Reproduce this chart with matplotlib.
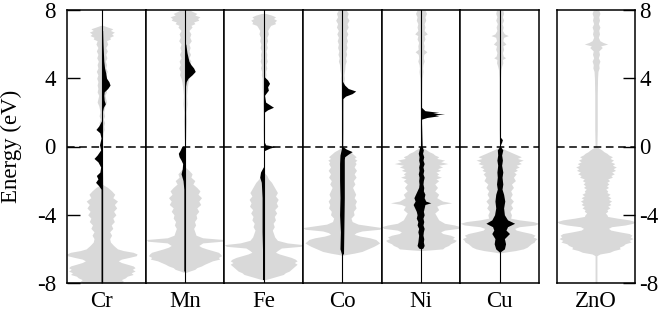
import matplotlib
matplotlib.use("Agg")
import matplotlib.pyplot as plt

plt.rcParams['font.family'] = ['Liberation Serif', 'DejaVu Serif']

# panel labels
dopants = ['Cr', 'Mn', 'Fe', 'Co', 'Ni', 'Cu']

# host (gray) DOS, half-width vs energy (eV)
cr_gray_e = [7.1, 7.0, 6.9, 6.8, 6.7, 6.6, 6.5, 6.4, 6.3, 6.2, 6.0, 5.8, 5.6, 5.4, 5.2, 5.0, 4.8, 4.6, 4.4, 4.2,
             4.0, 3.8, 3.6, 3.4, 3.2, 3.0, 2.8, 2.6, 2.4, 2.2, 2.0, 1.8, 1.6, 1.4, 1.2, 1.0, 0.8, 0.5, 0.2,
             -2.2, -2.4, -2.6, -2.8, -3.0, -3.2, -3.4, -3.6, -3.8, -4.0, -4.2, -4.4, -4.6, -4.8, -5.0, -5.2, -5.4,
             -5.6, -5.8, -6.0, -6.1, -6.2, -6.3, -6.4, -6.5, -6.6, -6.7, -6.8, -6.9, -7.0, -7.1, -7.2, -7.3, -7.4,
             -7.5, -7.6, -7.7, -7.8, -7.9, -8.0]
cr_gray_w = [0.03, 0.15, 0.28, 0.22, 0.32, 0.25, 0.3, 0.2, 0.22, 0.12, 0.15, 0.1, 0.14, 0.1, 0.13, 0.09, 0.12, 0.1,
             0.14, 0.1, 0.13, 0.1, 0.12, 0.1, 0.12, 0.08, 0.1, 0.12, 0.08, 0.06, 0.05, 0.07, 0.04, 0.07, 0.05, 0.06,
             0.03, 0.02, 0.0,
             0.0, 0.15, 0.25, 0.33, 0.28, 0.4, 0.32, 0.38, 0.3, 0.36, 0.28, 0.32, 0.24, 0.28, 0.2, 0.25, 0.2,
             0.22, 0.3, 0.4, 0.55, 0.8, 0.9, 0.88, 0.7, 0.5, 0.42, 0.5, 0.65, 0.8, 0.85, 0.78, 0.85, 0.75,
             0.8, 0.65, 0.6, 0.5, 0.55, 0.5]
mn_gray_e = [8.0, 7.9, 7.8, 7.7, 7.6, 7.5, 7.4, 7.3, 7.2, 7.1, 7.0, 6.8, 6.6, 6.4, 6.2, 6.0, 5.8, 5.6, 5.4, 5.2,
             5.0, 4.8, 4.6, 4.4, 4.2, 4.0, 3.8, 3.5, 3.0, 2.5, 2.0, 1.5, 1.0, 0.5, 0.0,
             -1.2, -1.4, -1.6, -1.8, -2.0, -2.2, -2.4, -2.6, -2.8, -3.0, -3.2, -3.4, -3.6, -3.8, -4.0, -4.2, -4.4,
             -4.6, -4.8, -5.0, -5.2, -5.35, -5.45, -5.55, -5.65, -5.8, -5.9, -6.0, -6.1, -6.2, -6.3, -6.4, -6.5,
             -6.6, -6.7, -6.8, -6.9, -7.0, -7.1, -7.2, -7.3, -7.4]
mn_gray_w = [0.12, 0.2, 0.3, 0.25, 0.38, 0.32, 0.35, 0.22, 0.25, 0.15, 0.18, 0.1, 0.15, 0.12, 0.16, 0.1, 0.13, 0.1,
             0.14, 0.1, 0.15, 0.12, 0.16, 0.12, 0.14, 0.1, 0.08, 0.06, 0.04, 0.05, 0.03, 0.04, 0.03, 0.02, 0.0,
             0.0, 0.1, 0.18, 0.15, 0.25, 0.2, 0.3, 0.38, 0.33, 0.42, 0.35, 0.4, 0.3, 0.35, 0.28, 0.3, 0.24,
             0.27, 0.22, 0.25, 0.28, 0.45, 0.98, 0.95, 0.45, 0.35, 0.42, 0.55, 0.7, 0.85, 0.9, 0.93, 0.85,
             0.88, 0.7, 0.6, 0.5, 0.42, 0.3, 0.25, 0.12, 0.0]
fe_gray_e = [7.8, 7.7, 7.6, 7.5, 7.4, 7.3, 7.2, 7.1, 7.0, 6.8, 6.6, 6.4, 6.2, 6.0, 5.8, 5.6, 5.4, 5.2, 5.0, 4.8,
             4.6, 4.4, 4.2, 4.0, 3.5, 3.0, 2.5, 2.0, 1.0, 0.0,
             -1.5, -1.7, -1.9, -2.1, -2.3, -2.5, -2.7, -2.9, -3.1, -3.3, -3.5, -3.7, -3.9, -4.1, -4.3, -4.5, -4.7,
             -4.9, -5.1, -5.3, -5.5, -5.65, -5.75, -5.85, -5.95, -6.1, -6.2, -6.3, -6.4, -6.5, -6.6, -6.7, -6.8,
             -6.9, -7.0, -7.1, -7.2, -7.3, -7.4, -7.5, -7.6, -7.7, -7.8]
fe_gray_w = [0.05, 0.2, 0.3, 0.25, 0.33, 0.28, 0.3, 0.18, 0.15, 0.1, 0.12, 0.08, 0.1, 0.07, 0.09, 0.06, 0.08, 0.07,
             0.09, 0.06, 0.08, 0.05, 0.06, 0.04, 0.04, 0.03, 0.03, 0.02, 0.02, 0.0,
             0.0, 0.08, 0.12, 0.2, 0.25, 0.3, 0.35, 0.3, 0.37, 0.32, 0.36, 0.28, 0.33, 0.27, 0.3, 0.24, 0.27,
             0.22, 0.25, 0.28, 0.35, 0.6, 1.0, 0.95, 0.45, 0.35, 0.3, 0.4, 0.55, 0.7, 0.8, 0.85, 0.78,
             0.85, 0.8, 0.75, 0.7, 0.65, 0.55, 0.5, 0.35, 0.2, 0.05]
co_gray_e = [8.0, 7.8, 7.6, 7.4, 7.2, 7.0, 6.8, 6.6, 6.4, 6.2, 6.0, 5.8, 5.6, 5.4, 5.2, 5.0, 4.8, 4.5, 4.2, 4.0,
             3.5, 3.0, 2.0, 1.0, 0.0,
             -0.1, -0.2, -0.3, -0.4, -0.5, -0.6, -0.7, -0.8, -0.9, -1.0, -1.2, -1.4, -1.6, -1.8, -2.0, -2.2, -2.4,
             -2.6, -2.8, -3.0, -3.2, -3.4, -3.6, -3.8, -4.0, -4.2, -4.4, -4.55, -4.65, -4.75, -4.85, -4.95, -5.05,
             -5.15, -5.25, -5.35, -5.45, -5.55, -5.65, -5.75, -5.85, -5.95, -6.05, -6.15, -6.25, -6.35, -6.4]
co_gray_w = [0.1, 0.15, 0.12, 0.17, 0.12, 0.15, 0.1, 0.14, 0.1, 0.13, 0.1, 0.12, 0.09, 0.11, 0.08, 0.1, 0.07,
             0.06, 0.04, 0.05, 0.03, 0.03, 0.02, 0.02, 0.0,
             0.05, 0.12, 0.2, 0.25, 0.3, 0.35, 0.3, 0.37, 0.32, 0.35, 0.3, 0.36, 0.3, 0.35, 0.28, 0.32, 0.26,
             0.3, 0.34, 0.3, 0.36, 0.32, 0.35, 0.28, 0.3, 0.22, 0.25, 0.4, 0.7, 1.0, 0.95, 0.5, 0.35,
             0.3, 0.45, 0.7, 0.85, 0.9, 0.95, 0.88, 0.8, 0.7, 0.6, 0.5, 0.3, 0.05, 0.0]
ni_gray_e = [8.0, 7.8, 7.6, 7.4, 7.2, 7.0, 6.8, 6.6, 6.5, 6.3, 6.1, 5.9, 5.7, 5.55, 5.4, 5.2, 5.0, 4.8, 4.6, 4.4,
             4.0, 3.0, 2.0, 1.0, 0.0,
             -0.1, -0.2, -0.3, -0.4, -0.5, -0.6, -0.7, -0.8, -0.9, -1.0, -1.1, -1.2, -1.3, -1.4, -1.5, -1.6, -1.7,
             -1.8, -1.9, -2.0, -2.2, -2.4, -2.6, -2.8, -3.0, -3.2, -3.3, -3.4, -3.5, -3.7, -3.9, -4.1, -4.3, -4.5,
             -4.6, -4.7, -4.8, -4.9, -5.0, -5.1, -5.2, -5.3, -5.4, -5.5, -5.6, -5.7, -5.8, -5.9, -6.0, -6.05, -6.1]
ni_gray_w = [0.1, 0.14, 0.1, 0.12, 0.08, 0.1, 0.08, 0.16, 0.08, 0.1, 0.06, 0.08, 0.07, 0.15, 0.07, 0.06, 0.08,
             0.05, 0.04, 0.05, 0.03, 0.02, 0.02, 0.02, 0.0,
             0.06, 0.14, 0.2, 0.3, 0.35, 0.45, 0.4, 0.6, 0.5, 0.68, 0.45, 0.55, 0.42, 0.5, 0.38, 0.45, 0.4,
             0.52, 0.38, 0.45, 0.35, 0.42, 0.35, 0.45, 0.4, 0.55, 0.78, 0.5, 0.4, 0.45, 0.35, 0.4, 0.45, 0.6,
             0.85, 1.0, 0.95, 0.6, 0.5, 0.55, 0.75, 0.85, 0.8, 0.9, 0.85, 0.75, 0.7, 0.6, 0.55, 0.3, 0.0]
cu_gray_e = [8.0, 7.8, 7.6, 7.4, 7.2, 7.0, 6.8, 6.6, 6.5, 6.4, 6.2, 6.0, 5.9, 5.7, 5.5, 5.3, 5.2, 5.1, 4.9, 4.7,
             4.5, 4.0, 3.0, 1.0, 0.0,
             -0.1, -0.2, -0.3, -0.4, -0.5, -0.6, -0.7, -0.8, -0.9, -1.0, -1.1, -1.2, -1.3, -1.4, -1.5, -1.6, -1.8,
             -2.0, -2.2, -2.4, -2.6, -2.8, -3.0, -3.2, -3.4, -3.6, -3.8, -4.0, -4.2, -4.3, -4.4, -4.5, -4.6, -4.7,
             -4.8, -4.9, -5.0, -5.1, -5.2, -5.3, -5.4, -5.5, -5.6, -5.7, -5.8, -5.9, -6.0, -6.1, -6.2, -6.25]
cu_gray_w = [0.08, 0.1, 0.07, 0.1, 0.06, 0.09, 0.07, 0.12, 0.22, 0.1, 0.08, 0.16, 0.08, 0.1, 0.07, 0.09, 0.15,
             0.07, 0.08, 0.05, 0.03, 0.02, 0.02, 0.02, 0.0,
             0.06, 0.15, 0.25, 0.35, 0.45, 0.55, 0.45, 0.6, 0.48, 0.55, 0.42, 0.5, 0.4, 0.45, 0.36, 0.42, 0.35,
             0.4, 0.3, 0.35, 0.28, 0.32, 0.27, 0.35, 0.28, 0.33, 0.26, 0.3, 0.28, 0.5, 0.85, 1.0, 0.9, 0.5,
             0.38, 0.42, 0.6, 0.8, 0.9, 0.85, 0.95, 0.9, 0.88, 0.8, 0.75, 0.7, 0.6, 0.4, 0.1, 0.0]
zno_gray_e = [8.0, 7.8, 7.6, 7.4, 7.2, 7.0, 6.8, 6.6, 6.4, 6.2, 6.1, 6.0, 5.9, 5.8, 5.6, 5.4, 5.2, 5.0, 4.8, 4.6,
              4.4, 4.0, 3.0, 2.0, 1.0, 0.0,
              -0.1, -0.2, -0.3, -0.4, -0.5, -0.6, -0.7, -0.8, -0.9, -1.0, -1.1, -1.2, -1.3, -1.4, -1.5, -1.6,
              -1.7, -1.8, -1.9, -2.0, -2.1, -2.2, -2.3, -2.4, -2.5, -2.6, -2.7, -2.8, -2.9, -3.0, -3.1, -3.2,
              -3.3, -3.4, -3.5, -3.6, -3.7, -3.8, -3.9, -4.0, -4.1, -4.2, -4.3, -4.4, -4.5, -4.6, -4.7, -4.8,
              -4.9, -5.0, -5.1, -5.2, -5.3, -5.4, -5.5, -5.6, -5.7, -5.8, -5.9, -6.0, -6.1, -6.2, -6.3, -6.4,
              -8.0]
zno_gray_w = [0.07, 0.1, 0.07, 0.09, 0.06, 0.1, 0.07, 0.09, 0.06, 0.1, 0.18, 0.3, 0.12, 0.16, 0.07, 0.09, 0.06,
              0.1, 0.07, 0.08, 0.05, 0.04, 0.03, 0.03, 0.03, 0.02,
              0.08, 0.15, 0.2, 0.28, 0.33, 0.42, 0.36, 0.45, 0.38, 0.48, 0.42, 0.52, 0.44, 0.5, 0.4, 0.47,
              0.38, 0.42, 0.3, 0.35, 0.28, 0.33, 0.27, 0.32, 0.25, 0.3, 0.28, 0.36, 0.3, 0.38, 0.32, 0.4,
              0.33, 0.38, 0.3, 0.36, 0.28, 0.3, 0.24, 0.28, 0.3, 0.55, 0.85, 1.0, 0.95, 0.75, 0.4, 0.32,
              0.38, 0.6, 0.85, 0.92, 0.88, 0.95, 0.85, 0.9, 0.75, 0.7, 0.6, 0.62, 0.45, 0.35, 0.1, 0.02,
              0.02]

# dopant d states (black), right side = spin up, left side = spin down
cr_up_e = [6.8, 6.0, 5.0, 4.6, 4.3, 4.0, 3.8, 3.6, 3.4, 3.2, 3.0, 2.7, 2.5, 2.3, 2.0, 1.0, -2.3, -8.0]
cr_up_w = [0.02, 0.03, 0.05, 0.07, 0.1, 0.12, 0.18, 0.21, 0.15, 0.06, 0.05, 0.06, 0.09, 0.04, 0.01, 0.01, 0.02, 0.02]
cr_dn_e = [1.5, 1.2, 1.0, 0.8, 0.5, 0.1, -0.2, -0.5, -0.7, -0.9, -1.2, -1.5, -1.7, -1.9, -2.1, -2.3, -2.5, -8.0]
cr_dn_w = [0.01, 0.08, 0.15, 0.05, 0.02, 0.06, 0.03, 0.12, 0.2, 0.1, 0.03, 0.05, 0.14, 0.1, 0.16, 0.08, 0.02, 0.02]
mn_up_e = [6.0, 5.5, 5.2, 5.0, 4.8, 4.6, 4.4, 4.2, 4.0, 3.8, 3.5, 0.0]
mn_up_w = [0.02, 0.05, 0.08, 0.1, 0.15, 0.22, 0.26, 0.18, 0.08, 0.03, 0.01, 0.01]
mn_dn_e = [0.0, -0.2, -0.4, -0.6, -0.8, -1.0, -1.3, -1.6, -2.0, -2.5, -7.3]
mn_dn_w = [0.08, 0.12, 0.17, 0.15, 0.1, 0.06, 0.07, 0.1, 0.05, 0.03, 0.03]
fe_up_e = [4.1, 3.9, 3.7, 3.5, 3.3, 3.0, 2.6, 2.45, 2.3, 2.15, 2.0, 0.3, 0.1, 0.0, -0.1, -0.25, -1.0]
fe_up_w = [0.01, 0.1, 0.15, 0.1, 0.12, 0.02, 0.05, 0.15, 0.25, 0.1, 0.01, 0.01, 0.05, 0.3, 0.15, 0.01, 0.01]
fe_dn_e = [-1.2, -1.5, -1.8, -2.1, -3.0, -5.0, -6.0, -7.8]
fe_dn_w = [0.01, 0.08, 0.1, 0.06, 0.04, 0.04, 0.03, 0.03]
co_up_e = [3.8, 3.6, 3.4, 3.25, 3.1, 2.95, 2.8, 0.0, -0.15, -0.3, -0.45, -0.6, -0.75, -1.0, -3.0, -6.3]
co_up_w = [0.01, 0.06, 0.15, 0.34, 0.25, 0.08, 0.01, 0.01, 0.1, 0.25, 0.15, 0.06, 0.05, 0.05, 0.05, 0.03]
co_dn_e = [-0.1, -0.5, -1.0, -2.0, -3.0, -4.0, -5.0, -6.0, -6.3]
co_dn_w = [0.02, 0.06, 0.07, 0.07, 0.06, 0.07, 0.05, 0.06, 0.02]
ni_up_e = [2.3, 2.1, 2.0, 1.95, 1.9, 1.85, 1.8, 1.7, 1.6, 0.0, -0.2, -0.4, -0.6, -0.8, -1.0, -1.2, -1.4, -1.6,
           -1.8, -2.0, -2.2, -2.4, -2.6, -2.8, -3.0, -3.2, -3.3, -3.4, -3.6, -3.8, -4.0, -4.2, -4.4, -4.6, -4.8,
           -5.0, -5.2, -5.4, -5.6, -5.8, -5.95, -6.0]
ni_up_w = [0.01, 0.1, 0.45, 0.3, 0.6, 0.35, 0.45, 0.15, 0.01, 0.03, 0.06, 0.04, 0.07, 0.05, 0.08, 0.05, 0.07, 0.05,
           0.08, 0.06, 0.05, 0.07, 0.06, 0.1, 0.08, 0.12, 0.25, 0.1, 0.08, 0.06, 0.08, 0.05, 0.07, 0.05, 0.08,
           0.06, 0.05, 0.07, 0.06, 0.08, 0.05, 0.0]
ni_dn_e = [0.0, -0.2, -0.4, -0.6, -0.8, -1.0, -1.2, -1.4, -1.6, -1.8, -2.0, -2.2, -2.4, -2.6, -2.8, -3.0, -3.2,
           -3.4, -3.6, -3.8, -4.0, -4.2, -4.4, -4.6, -4.8, -5.0, -5.2, -5.4, -5.6, -5.8, -5.95, -6.0]
ni_dn_w = [0.03, 0.05, 0.07, 0.05, 0.06, 0.04, 0.06, 0.05, 0.07, 0.05, 0.06, 0.05, 0.06, 0.1, 0.14, 0.18, 0.15,
           0.2, 0.16, 0.12, 0.1, 0.12, 0.08, 0.1, 0.06, 0.08, 0.06, 0.07, 0.08, 0.1, 0.06, 0.0]
cu_up_e = [0.6, 0.4, 0.25, 0.1, 0.0, -0.2, -0.5, -0.8, -1.1, -1.5, -1.8, -2.2, -2.5, -2.8, -3.2, -3.6, -4.0, -4.3,
           -4.5, -4.7, -4.9, -5.1, -5.4, -5.7, -6.0, -6.2]
cu_up_w = [0.0, 0.07, 0.05, 0.02, 0.02, 0.08, 0.05, 0.07, 0.05, 0.08, 0.06, 0.08, 0.06, 0.1, 0.13, 0.1, 0.12, 0.2,
           0.38, 0.2, 0.16, 0.25, 0.12, 0.15, 0.12, 0.0]
cu_dn_e = [0.0, -0.2, -0.5, -0.8, -1.1, -1.5, -1.8, -2.2, -2.5, -2.8, -3.2, -3.6, -4.0, -4.3, -4.5, -4.7, -4.9,
           -5.1, -5.4, -5.7, -6.0, -6.2]
cu_dn_w = [0.0, 0.06, 0.05, 0.07, 0.05, 0.07, 0.06, 0.08, 0.06, 0.1, 0.12, 0.1, 0.13, 0.2, 0.35, 0.18, 0.15,
           0.2, 0.12, 0.14, 0.1, 0.0]

gray_e = [cr_gray_e, mn_gray_e, fe_gray_e, co_gray_e, ni_gray_e, cu_gray_e]
gray_w = [cr_gray_w, mn_gray_w, fe_gray_w, co_gray_w, ni_gray_w, cu_gray_w]
up_e = [cr_up_e, mn_up_e, fe_up_e, co_up_e, ni_up_e, cu_up_e]
up_w = [cr_up_w, mn_up_w, fe_up_w, co_up_w, ni_up_w, cu_up_w]
dn_e = [cr_dn_e, mn_dn_e, fe_dn_e, co_dn_e, ni_dn_e, cu_dn_e]
dn_w = [cr_dn_w, mn_dn_w, fe_dn_w, co_dn_w, ni_dn_w, cu_dn_w]

yticks = [8, 4, 0, -4, -8]
ytick_labels = ['8', '4', '0', '-4', '-8']

GRAY = '#d9d9d9'
FS = 16.5
W, H = 664, 311

fig = plt.figure(figsize=(W / 100, H / 100), dpi=100)

left, right, top, bottom = 67, 539, 10, 283
pw = (right - left) / 6


def style(ax, xlim):
    ax.set_xlim(*xlim)
    ax.set_ylim(-8, 8)
    ax.axhline(0, color='black', lw=1.1, ls=(0, (5, 3)), zorder=5)
    for s in ax.spines.values():
        s.set_linewidth(1.1)
    ax.tick_params(axis='x', length=0, pad=6, labelsize=FS)
    ax.tick_params(axis='y', direction='in', length=9, width=1.0, labelsize=FS)


for i, name in enumerate(dopants):
    x0 = left + i * pw
    ax = fig.add_axes([x0 / W, 1 - bottom / H, pw / W, (bottom - top) / H])
    xlim = (-0.89, 1.12) if name == 'Cr' else (-1, 1)
    ax.fill_betweenx(gray_e[i], [-w for w in gray_w[i]], gray_w[i], color=GRAY, lw=0, zorder=1)
    ax.fill_betweenx(up_e[i], 0, up_w[i], color='black', lw=0, zorder=2)
    ax.fill_betweenx(dn_e[i], [-w for w in dn_w[i]], 0, color='black', lw=0, zorder=2)
    ax.axvline(0, color='black', lw=0.8, zorder=3)
    style(ax, xlim)
    ax.set_xticks([0])
    ax.set_xticklabels([name])
    ax.set_yticks(yticks)
    if i == 0:
        ax.set_yticklabels(ytick_labels)
        ax.tick_params(axis='y', pad=8)
        ax.set_ylabel('Energy (eV)', fontsize=FS)
        ax.yaxis.set_label_coords(-0.57, 0.5)
    else:
        ax.tick_params(axis='y', length=0, labelleft=False)

# pure ZnO reference panel
zx0, zx1 = 557, 635
ax = fig.add_axes([zx0 / W, 1 - bottom / H, (zx1 - zx0) / W, (bottom - top) / H])
ax.fill_betweenx(zno_gray_e, [-w for w in zno_gray_w], zno_gray_w, color=GRAY, lw=0, zorder=1)
ax.axvline(0, color=GRAY, lw=1.0, zorder=2)
style(ax, (-1, 1))
ax.set_xticks([0])
ax.set_xticklabels(['ZnO'])
ax.set_yticks(yticks)
ax.set_yticklabels(ytick_labels)
ax.yaxis.tick_right()
ax.tick_params(axis='y', direction='in', length=9, pad=3, labelleft=False, labelright=True)

fig.savefig('out.png', dpi=100)
